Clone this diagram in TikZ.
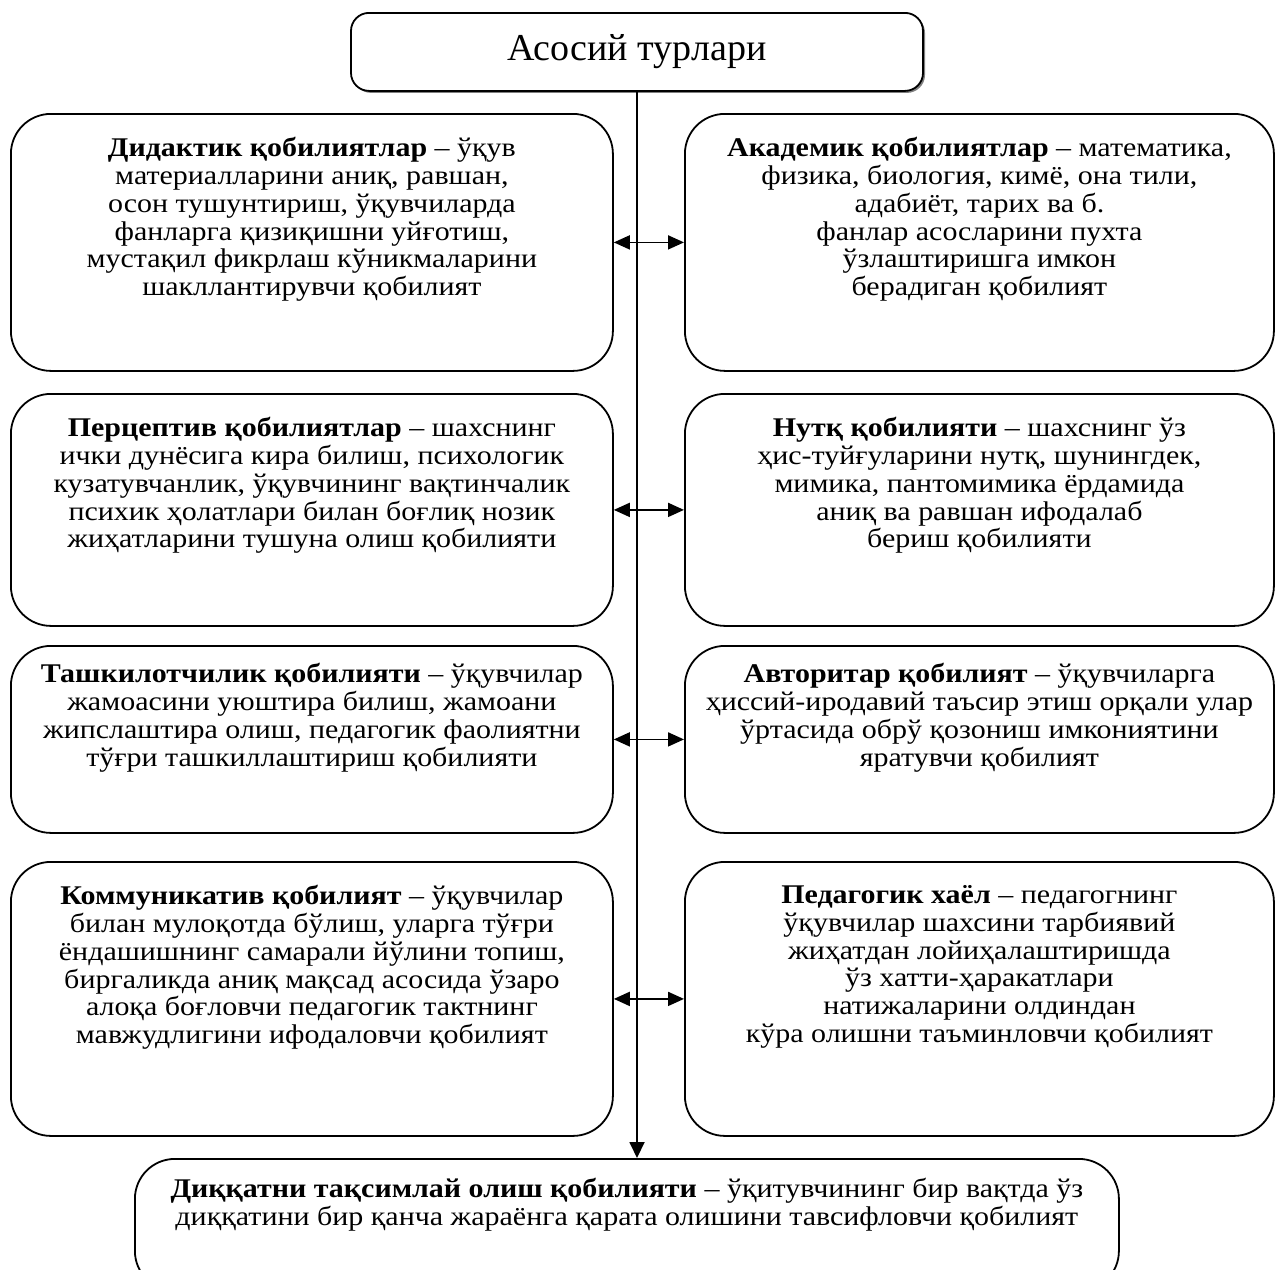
\documentclass[tikz,border=0pt]{standalone}
\usepackage{fontspec}
\setmainfont{Liberation Serif}[FakeStretch=1.11]
\newfontfamily\titlefont{Liberation Serif}
\usetikzlibrary{shadows, arrows.meta, positioning}

\tikzstyle{ability}     = [draw, line width=0.9pt, rounded corners=20pt, inner sep=0pt, anchor=north west]
\tikzstyle{abilitytext} = [inner sep=0pt, align=center, font=\fontsize{13.5}{13.9}\selectfont]
\tikzstyle{biarrow}     = [line width=0.9pt, {Triangle[length=8pt,width=7pt]}-{Triangle[length=8pt,width=7pt]}]
\tikzstyle{downarrow}   = [line width=0.9pt, -{Triangle[length=8pt,width=7.5pt]}]

\begin{document}
\begin{tikzpicture}[x=0.5pt, y=-0.5pt]
\useasboundingbox (0,0) rectangle (1277,1269);

\node[draw, line width=0.9pt, rounded corners=9pt, fill=white, anchor=north,
      minimum width=286pt, minimum height=39pt, font=\titlefont\fontsize{19}{21}\selectfont,
      drop shadow={shadow xshift=1pt, shadow yshift=-1pt, fill=black, opacity=0.5}] (main) at (637,12) {Асосий турлари};

% left column
\node[ability, minimum width=301pt, minimum height=128.5pt] (did) at (10,113) {};
\node[ability, minimum width=301pt, minimum height=116pt] (per) at (10,393) {};
\node[ability, minimum width=301pt, minimum height=93.5pt] (tash) at (10,645) {};
\node[ability, minimum width=301pt, minimum height=137pt] (kom) at (10,861) {};

% right column
\node[ability, minimum width=294.5pt, minimum height=128.5pt] (aka) at (684,113) {};
\node[ability, minimum width=294.5pt, minimum height=116pt] (nutq) at (684,393) {};
\node[ability, minimum width=294.5pt, minimum height=93.5pt] (avt) at (684,645) {};
\node[ability, minimum width=294.5pt, minimum height=137pt] (ped) at (684,861) {};

\node[ability, minimum width=492pt, minimum height=66pt] (diq) at (134,1158) {};

\node[abilitytext, below=12pt of did.north] (didtxt) {\textbf{Дидактик қобилиятлар} – ўқув\\
материалларини аниқ, равшан,\\
осон тушунтириш, ўқувчиларда\\
фанларга қизиқишни уйғотиш,\\
мустақил фикрлаш кўникмаларини\\
шакллантирувчи қобилият};

\node[abilitytext, below=12pt of aka.north] (akatxt) {\textbf{Академик қобилиятлар} – математика,\\
физика, биология, кимё, она тили,\\
адабиёт, тарих ва б.\\
фанлар асосларини пухта\\
ўзлаштиришга имкон\\
берадиган қобилият};

\node[abilitytext, below=12pt of per.north] (pertxt) {\textbf{Перцептив қобилиятлар} – шахснинг\\
ички дунёсига кира билиш, психологик\\
кузатувчанлик, ўқувчининг вақтинчалик\\
психик ҳолатлари билан боғлиқ нозик\\
жиҳатларини тушуна олиш қобилияти};

\node[abilitytext, below=12pt of nutq.north] (nutqtxt) {\textbf{Нутқ қобилияти} – шахснинг ўз\\
ҳис-туйғуларини нутқ, шунингдек,\\
мимика, пантомимика ёрдамида\\
аниқ ва равшан ифодалаб\\
бериш қобилияти};

\node[abilitytext, below=9pt of tash.north] (tashtxt) {\textbf{Ташкилотчилик қобилияти} – ўқувчилар\\
жамоасини уюштира билиш, жамоани\\
жипслаштира олиш, педагогик фаолиятни\\
тўғри ташкиллаштириш қобилияти};

\node[abilitytext, below=9pt of avt.north] (avttxt) {\textbf{Авторитар қобилият} – ўқувчиларга\\
ҳиссий-иродавий таъсир этиш орқали улар\\
ўртасида обрў қозониш имкониятини\\
яратувчи қобилият};

\node[abilitytext, below=12pt of kom.north] (komtxt) {\textbf{Коммуникатив қобилият} – ўқувчилар\\
билан мулоқотда бўлиш, уларга тўғри\\
ёндашишнинг самарали йўлини топиш,\\
биргаликда аниқ мақсад асосида ўзаро\\
алоқа боғловчи педагогик тактнинг\\
мавжудлигини ифодаловчи қобилият};

\node[abilitytext, below=12pt of ped.north] (pedtxt) {\textbf{Педагогик хаёл} – педагогнинг\\
ўқувчилар шахсини тарбиявий\\
жиҳатдан лойиҳалаштиришда\\
ўз хатти-ҳаракатлари\\
натижаларини олдиндан\\
кўра олишни таъминловчи қобилият};

\node[abilitytext, below=10pt of diq.north] (diqtxt) {\textbf{Диққатни тақсимлай олиш қобилияти} – ўқитувчининг бир вақтда ўз\\
диққатини бир қанча жараёнга қарата олишини тавсифловчи қобилият};

\draw[downarrow] (main.south) -- (main.south |- diq.north);

\draw[biarrow] (did.east) -- (aka.west);
\draw[biarrow] (per.east) -- (nutq.west);
\draw[biarrow] (tash.east) -- (avt.west);
\draw[biarrow] (kom.east) -- (ped.west);

\end{tikzpicture}
\end{document}
